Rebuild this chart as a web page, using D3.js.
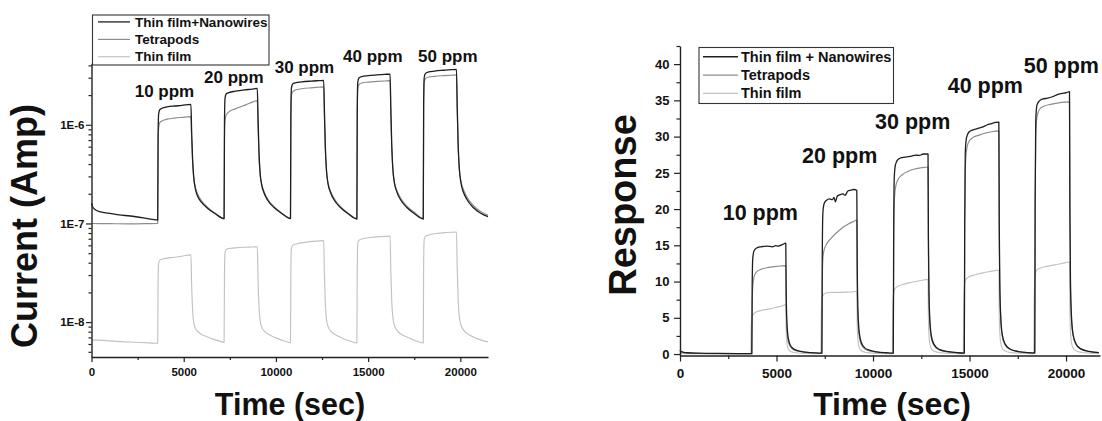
<!DOCTYPE html>
<html>
<head>
<meta charset="utf-8">
<script src="https://cdn.jsdelivr.net/npm/d3@7"></script>
<style>
  body { margin: 0; background: #fff; }
  svg { display: block; font-family: "Liberation Sans", Arial, sans-serif; font-weight: bold; }
</style>
</head>
<body>
<svg id="chart" width="1102" height="421"></svg>
<script>
// ---- Sensor current (A) vs time (s), log scale ----
const currentHybrid = [
  [0,1.60e-7],[60,1.48e-7],[200,1.38e-7],[500,1.31e-7],[900,1.27e-7],[1500,1.22e-7],[2100,1.19e-7],[2800,1.14e-7],[3300,1.10e-7],[3590,1.08e-7],
  [3610,7.5e-7],[3640,1.28e-6],[3700,1.42e-6],[3850,1.48e-6],[4100,1.52e-6],[4500,1.55e-6],[4900,1.57e-6],[5390,1.61e-6],
  [5430,8.5e-7],[5480,4.6e-7],[5540,3.0e-7],[5630,2.25e-7],[5750,1.9e-7],[5950,1.65e-7],[6300,1.42e-7],[6700,1.26e-7],[7190,1.12e-7],
  [7210,1.0e-6],[7240,1.85e-6],[7300,2.05e-6],[7450,2.12e-6],[7800,2.19e-6],[8300,2.26e-6],[8700,2.3e-6],[8990,2.34e-6],
  [9030,1.2e-6],[9080,5.5e-7],[9140,3.3e-7],[9230,2.45e-7],[9350,2.05e-7],[9550,1.72e-7],[9900,1.45e-7],[10300,1.27e-7],[10790,1.12e-7],
  [10810,1.2e-6],[10840,2.35e-6],[10900,2.58e-6],[11050,2.66e-6],[11400,2.72e-6],[11900,2.77e-6],[12300,2.8e-6],[12590,2.82e-6],
  [12630,1.4e-6],[12680,6e-7],[12740,3.5e-7],[12830,2.5e-7],[12950,2.08e-7],[13150,1.74e-7],[13500,1.45e-7],[13900,1.26e-7],[14390,1.11e-7],
  [14410,1.4e-6],[14440,2.7e-6],[14500,2.98e-6],[14650,3.08e-6],[15000,3.15e-6],[15500,3.2e-6],[15900,3.24e-6],[16190,3.27e-6],
  [16230,1.5e-6],[16280,6.3e-7],[16340,3.6e-7],[16430,2.55e-7],[16550,2.1e-7],[16750,1.75e-7],[17100,1.45e-7],[17500,1.26e-7],[17990,1.11e-7],
  [18010,1.6e-6],[18040,3.0e-6],[18100,3.3e-6],[18250,3.42e-6],[18600,3.5e-6],[19100,3.57e-6],[19500,3.62e-6],[19790,3.65e-6],
  [19830,1.6e-6],[19880,6.5e-7],[19940,3.7e-7],[20030,2.6e-7],[20150,2.12e-7],[20350,1.76e-7],[20700,1.45e-7],[21100,1.27e-7],[21500,1.17e-7]
];
const currentTetrapods = [
  [0,1.0e-7],[1000,9.95e-8],[2000,9.9e-8],[3000,9.95e-8],[3590,1.0e-7],
  [3610,5.5e-7],[3640,9.3e-7],[3700,1.05e-6],[3850,1.1e-6],[4100,1.14e-6],[4500,1.17e-6],[4900,1.19e-6],[5390,1.21e-6],
  [5430,7.0e-7],[5480,4.2e-7],[5540,2.95e-7],[5630,2.35e-7],[5750,2.0e-7],[5950,1.72e-7],[6300,1.45e-7],[6700,1.27e-7],[7190,1.12e-7],
  [7210,7e-7],[7240,1.12e-6],[7300,1.25e-6],[7450,1.35e-6],[7800,1.45e-6],[8200,1.55e-6],[8600,1.66e-6],[8990,1.76e-6],
  [9030,9.5e-7],[9080,4.8e-7],[9140,3.2e-7],[9230,2.5e-7],[9350,2.12e-7],[9550,1.78e-7],[9900,1.48e-7],[10300,1.28e-7],[10790,1.13e-7],
  [10810,1.0e-6],[10840,1.95e-6],[10900,2.15e-6],[11050,2.25e-6],[11400,2.32e-6],[11900,2.37e-6],[12300,2.4e-6],[12590,2.42e-6],
  [12630,1.2e-6],[12680,5.5e-7],[12740,3.4e-7],[12830,2.55e-7],[12950,2.15e-7],[13150,1.8e-7],[13500,1.48e-7],[13900,1.28e-7],[14390,1.12e-7],
  [14410,1.2e-6],[14440,2.3e-6],[14500,2.55e-6],[14650,2.65e-6],[15000,2.71e-6],[15500,2.75e-6],[15900,2.78e-6],[16190,2.8e-6],
  [16230,1.3e-6],[16280,5.8e-7],[16340,3.5e-7],[16430,2.6e-7],[16550,2.18e-7],[16750,1.82e-7],[17100,1.5e-7],[17500,1.3e-7],[17990,1.13e-7],
  [18010,1.4e-6],[18040,2.65e-6],[18100,2.92e-6],[18250,3.03e-6],[18600,3.1e-6],[19100,3.15e-6],[19500,3.18e-6],[19790,3.2e-6],
  [19830,1.4e-6],[19880,6e-7],[19940,3.6e-7],[20030,2.7e-7],[20150,2.25e-7],[20350,1.86e-7],[20700,1.52e-7],[21100,1.32e-7],[21500,1.21e-7]
];
const currentThinFilm = [
  [0,6.6e-9],[800,6.5e-9],[1600,6.35e-9],[2400,6.25e-9],[3100,6.15e-9],[3590,6.1e-9],
  [3610,2.4e-8],[3640,3.9e-8],[3700,4.25e-8],[3900,4.38e-8],[4300,4.5e-8],[4800,4.63e-8],[5390,4.8e-8],
  [5430,2.4e-8],[5480,1.35e-8],[5540,1.0e-8],[5630,8.7e-9],[5800,7.9e-9],[6100,7.3e-9],[6500,6.8e-9],[6900,6.45e-9],[7190,6.25e-9],
  [7210,3.0e-8],[7240,5.1e-8],[7300,5.45e-8],[7500,5.58e-8],[7900,5.68e-8],[8500,5.75e-8],[8990,5.8e-8],
  [9030,2.7e-8],[9080,1.45e-8],[9140,1.05e-8],[9230,8.9e-9],[9400,8.0e-9],[9700,7.35e-9],[10100,6.8e-9],[10500,6.4e-9],[10790,6.2e-9],
  [10810,3.2e-8],[10840,5.6e-8],[10900,6.0e-8],[11100,6.2e-8],[11500,6.4e-8],[12000,6.58e-8],[12590,6.7e-8],
  [12630,3.0e-8],[12680,1.55e-8],[12740,1.08e-8],[12830,9.0e-9],[13000,8.0e-9],[13300,7.3e-9],[13700,6.75e-9],[14100,6.35e-9],[14390,6.15e-9],
  [14410,3.5e-8],[14440,6.3e-8],[14500,6.75e-8],[14700,7.0e-8],[15100,7.2e-8],[15600,7.35e-8],[16190,7.45e-8],
  [16230,3.3e-8],[16280,1.65e-8],[16340,1.12e-8],[16430,9.2e-9],[16600,8.1e-9],[16900,7.35e-9],[17300,6.8e-9],[17700,6.35e-9],[17990,6.15e-9],
  [18010,3.8e-8],[18040,6.9e-8],[18100,7.4e-8],[18300,7.65e-8],[18700,7.9e-8],[19200,8.08e-8],[19790,8.2e-8],
  [19830,3.6e-8],[19880,1.75e-8],[19940,1.15e-8],[20030,9.4e-9],[20200,8.2e-9],[20500,7.4e-9],[20900,6.8e-9],[21500,6.3e-9]
];

// ---- Sensor response vs time (s), linear scale ----
const responseHybrid = [
  [0,0.55],[40,0.4],[150,0.28],[400,0.18],[1000,0.12],[2000,0.08],[3000,0.06],[3720,0.05],
  [3740,9.5],[3770,13.2],[3830,14.2],[3950,14.6],[4200,14.8],[4500,14.9],[4800,14.8],[4950,14.95],[5100,14.9],[5300,15.1],[5480,15.3],
  [5500,9.0],[5530,5.0],[5580,2.8],[5660,1.6],[5800,0.9],[6050,0.5],[6500,0.28],[7000,0.16],[7350,0.12],
  [7370,13],[7400,19.3],[7460,20.7],[7580,21.2],[7750,21.4],[7900,21.3],[7980,21.6],[8050,21.0],[8150,21.8],[8300,22.0],[8450,22.1],[8550,21.9],[8700,22.5],[8850,22.6],[9000,22.7],[9160,22.6],
  [9180,13],[9210,7],[9260,3.8],[9340,2.1],[9480,1.15],[9730,0.6],[10200,0.3],[10700,0.18],[11050,0.13],
  [11070,16],[11100,24.3],[11160,26.1],[11280,26.8],[11500,27.1],[11750,27.2],[12000,27.3],[12200,27.45],[12400,27.4],[12600,27.6],[12850,27.6],
  [12870,16],[12900,8.5],[12950,4.5],[13030,2.4],[13170,1.3],[13420,0.65],[13900,0.32],[14400,0.18],[14730,0.14],
  [14750,18],[14780,27.8],[14840,29.8],[14960,30.6],[15150,30.9],[15400,31.1],[15650,31.3],[15900,31.6],[16150,31.8],[16350,31.95],[16520,32.0],
  [16540,18],[16570,9.5],[16620,5],[16700,2.6],[16840,1.4],[17090,0.7],[17550,0.34],[18050,0.19],[18380,0.15],
  [18400,21],[18430,32],[18490,34.3],[18610,34.9],[18800,35.2],[19050,35.3],[19300,35.5],[19550,35.8],[19800,35.95],[20000,36.05],[20180,36.2],
  [20200,20],[20230,10],[20280,5.3],[20360,2.8],[20500,1.5],[20750,0.75],[21200,0.36],[21700,0.2]
];
const responseTetrapods = [
  [0,0.35],[60,0.25],[300,0.14],[1000,0.08],[2200,0.05],[3720,0.04],
  [3740,6.5],[3770,9.3],[3830,10.6],[3950,11.3],[4200,11.7],[4600,11.95],[5000,12.1],[5480,12.2],
  [5500,7],[5530,3.8],[5580,2.2],[5660,1.3],[5800,0.75],[6050,0.42],[6500,0.24],[7000,0.14],[7350,0.1],
  [7370,9],[7400,13],[7460,14.3],[7580,15.1],[7800,15.9],[8100,16.7],[8400,17.4],[8700,17.9],[9000,18.3],[9160,18.5],
  [9180,10],[9210,5.3],[9260,3],[9340,1.7],[9480,0.95],[9730,0.5],[10200,0.26],[10700,0.15],[11050,0.11],
  [11070,14],[11100,20.8],[11160,22.9],[11280,24.0],[11500,24.7],[11800,25.2],[12100,25.5],[12500,25.7],[12850,25.8],
  [12870,14],[12900,7.5],[12950,4],[13030,2.1],[13170,1.15],[13420,0.6],[13900,0.3],[14400,0.16],[14730,0.12],
  [14750,17],[14780,25.5],[14840,28.0],[14960,29.3],[15200,29.9],[15500,30.2],[15850,30.5],[16200,30.7],[16520,30.8],
  [16540,17],[16570,9],[16620,4.7],[16700,2.45],[16840,1.3],[17090,0.65],[17550,0.32],[18050,0.18],[18380,0.13],
  [18400,20],[18430,30],[18490,32.6],[18610,33.7],[18850,34.2],[19200,34.45],[19600,34.65],[20180,34.8],
  [20200,19],[20230,9.5],[20280,5],[20360,2.65],[20500,1.4],[20750,0.7],[21200,0.34],[21700,0.19]
];
const responseThinFilm = [
  [0,0.1],[500,0.05],[3670,0.02],
  [3690,3.8],[3730,5.0],[3800,5.5],[3950,5.8],[4200,6.0],[4600,6.2],[5000,6.45],[5300,6.65],[5480,6.85],
  [5500,3.5],[5530,1.8],[5580,0.95],[5660,0.5],[5800,0.28],[6100,0.14],[6700,0.07],[7300,0.04],
  [7320,5],[7360,7.6],[7430,8.2],[7600,8.45],[7900,8.5],[8300,8.5],[8700,8.55],[9000,8.6],[9160,8.65],
  [9180,4.3],[9210,2.2],[9260,1.15],[9340,0.6],[9480,0.33],[9800,0.16],[10400,0.08],[11000,0.04],
  [11020,5.5],[11060,8.3],[11130,9.0],[11300,9.35],[11600,9.65],[12000,9.9],[12400,10.1],[12850,10.3],
  [12870,5.2],[12900,2.6],[12950,1.35],[13030,0.7],[13170,0.38],[13500,0.18],[14100,0.09],[14680,0.05],
  [14700,6.5],[14740,9.6],[14810,10.3],[14980,10.65],[15300,10.95],[15700,11.2],[16100,11.4],[16520,11.6],
  [16540,5.8],[16570,2.9],[16620,1.5],[16700,0.78],[16840,0.42],[17170,0.2],[17800,0.1],[18330,0.05],
  [18350,7],[18390,10.7],[18460,11.5],[18650,11.85],[19000,12.1],[19400,12.3],[19800,12.5],[20180,12.7],
  [20200,6.3],[20230,3.1],[20280,1.6],[20360,0.85],[20500,0.45],[20830,0.22],[21300,0.12],[21700,0.08]
];

// ---- Labels and ticks ----
const legendLabelsLeft = ["Thin film+Nanowires", "Tetrapods", "Thin film"];
const legendLabelsRight = ["Thin film + Nanowires", "Tetrapods", "Thin film"];
const concentrationLabels = ["10 ppm", "20 ppm", "30 ppm", "40 ppm", "50 ppm"];
const timeTicks = [0, 5000, 10000, 15000, 20000];
const timeMinorTicks = [2500, 7500, 12500, 17500];
const currentTicks = [1e-8, 1e-7, 1e-6];
const currentMinorTicks = [5e-9, 6e-9, 7e-9, 8e-9, 9e-9,
  2e-8, 3e-8, 4e-8, 5e-8, 6e-8, 7e-8, 8e-8, 9e-8,
  2e-7, 3e-7, 4e-7, 5e-7, 6e-7, 7e-7, 8e-7, 9e-7,
  2e-6, 3e-6, 4e-6];
const responseTicks = [0, 5, 10, 15, 20, 25, 30, 35, 40];
const responseMinorTicks = [2.5, 7.5, 12.5, 17.5, 22.5, 27.5, 32.5, 37.5, 42.5];

const seriesColors = ["#1e1e1e", "#8c8c8c", "#c2c2c2"];
const seriesWidths = [1.3, 1.15, 1.15];

const svg = d3.select("#chart");
const ink = "#222";
const plainNumber = d3.format("d");

function styleAxis(g, fontSize) {
  g.select(".domain").attr("stroke", ink).attr("stroke-width", 1.4);
  g.selectAll(".tick line").attr("stroke", ink).attr("stroke-width", 1.2);
  g.selectAll(".tick text").attr("fill", "#111").attr("font-size", fontSize)
    .attr("font-weight", "bold").attr("font-family", '"Liberation Sans", Arial, sans-serif');
}

function drawLines(g, x, y, seriesList) {
  const line = d3.line().x(d => x(d[0])).y(d => y(d[1])).curve(d3.curveMonotoneX);
  // lightest trace first so the darker ones sit on top
  [2, 1, 0].forEach(i => {
    g.append("path").datum(seriesList[i])
      .attr("fill", "none")
      .attr("stroke", seriesColors[i])
      .attr("stroke-width", seriesWidths[i])
      .attr("stroke-linejoin", "round")
      .attr("d", line);
  });
}

function drawLegend(g, box, labels, fontSize, rowBaselines, lineX0, lineX1, textX) {
  g.append("rect").attr("x", box.x).attr("y", box.y).attr("width", box.w).attr("height", box.h)
    .attr("fill", "#fff").attr("stroke", "#333").attr("stroke-width", 1.1);
  labels.forEach((lab, i) => {
    const yb = rowBaselines[i];
    g.append("line").attr("x1", lineX0).attr("x2", lineX1)
      .attr("y1", yb - fontSize * 0.34).attr("y2", yb - fontSize * 0.34)
      .attr("stroke", seriesColors[i]).attr("stroke-width", seriesWidths[i]);
    g.append("text").attr("x", textX).attr("y", yb).attr("font-size", fontSize)
      .attr("fill", "#111").text(lab);
  });
}

// ================= Left panel: current =================
const left = svg.append("g");
const xL = d3.scaleLinear().domain([0, 21500]).range([91.5, 488]);
const yL = d3.scaleLog().domain([4.43e-9, 4.2e-6]).range([357, 63.3]);

drawLines(left, xL, yL, [currentHybrid, currentTetrapods, currentThinFilm]);

const axLX = left.append("g").attr("transform", "translate(0,357)")
  .call(d3.axisBottom(xL).tickValues(timeTicks).tickFormat(plainNumber)
    .tickSize(5).tickPadding(6).tickSizeOuter(0));
styleAxis(axLX, 11.5);
const axLXm = left.append("g").attr("transform", "translate(0,357)")
  .call(d3.axisBottom(xL).tickValues(timeMinorTicks).tickSize(3).tickFormat("").tickSizeOuter(0));
styleAxis(axLXm, 11.5); axLXm.select(".domain").remove();

const axLY = left.append("g").attr("transform", "translate(91.5,0)")
  .call(d3.axisLeft(yL).tickValues(currentTicks).tickSize(5.5).tickPadding(1.5).tickSizeOuter(0)
    .tickFormat(d => "1E" + Math.round(Math.log10(d))));
styleAxis(axLY, 11.5);
const axLYm = left.append("g").attr("transform", "translate(91.5,0)")
  .call(d3.axisLeft(yL).tickValues(currentMinorTicks).tickSize(3).tickFormat("").tickSizeOuter(0));
styleAxis(axLYm, 11.5); axLYm.select(".domain").remove();

drawLegend(left, {x: 92.5, y: 15, w: 176.5, h: 50}, legendLabelsLeft, 13.5, [26.5, 44, 61.3], 98, 130, 135);

const ppmLeftPos = [[134.7, 96.7], [204, 83.3], [274.7, 72.7], [343, 61.7], [418, 61.7]];
concentrationLabels.forEach((t, i) => {
  left.append("text").attr("x", ppmLeftPos[i][0]).attr("y", ppmLeftPos[i][1])
    .attr("font-size", 17).attr("fill", "#111").text(t);
});

left.append("text").attr("transform", "translate(37,226) rotate(-90)")
  .attr("text-anchor", "middle").attr("font-size", 36).attr("fill", "#111").text("Current (Amp)");
left.append("text").attr("x", 290).attr("y", 415)
  .attr("text-anchor", "middle").attr("font-size", 30.5).attr("fill", "#111").text("Time (sec)");

// ================= Right panel: response =================
const right = svg.append("g");
const xR = d3.scaleLinear().domain([0, 21760]).range([680, 1100]);
const yR = d3.scaleLinear().domain([-0.2, 42.5]).range([355.5, 46]);

drawLines(right, xR, yR, [responseHybrid, responseTetrapods, responseThinFilm]);

const axRX = right.append("g").attr("transform", "translate(0,355.5)")
  .call(d3.axisBottom(xR).tickValues(timeTicks).tickFormat(plainNumber)
    .tickSize(6).tickPadding(7).tickSizeOuter(0));
styleAxis(axRX, 13.5);
const axRXm = right.append("g").attr("transform", "translate(0,355.5)")
  .call(d3.axisBottom(xR).tickValues(timeMinorTicks).tickSize(3.5).tickFormat("").tickSizeOuter(0));
styleAxis(axRXm, 13.5); axRXm.select(".domain").remove();

const axRY = right.append("g").attr("transform", "translate(680,0)")
  .call(d3.axisLeft(yR).tickValues(responseTicks).tickFormat(plainNumber)
    .tickSize(6).tickPadding(4.5).tickSizeOuter(0));
styleAxis(axRY, 13);
const axRYm = right.append("g").attr("transform", "translate(680,0)")
  .call(d3.axisLeft(yR).tickValues(responseMinorTicks).tickSize(3.5).tickFormat("").tickSizeOuter(0));
styleAxis(axRYm, 13); axRYm.select(".domain").remove();

drawLegend(right, {x: 699, y: 47.5, w: 194.5, h: 56}, legendLabelsRight, 14.5, [61.7, 80, 98.3], 703, 738, 741);

const ppmRightPos = [[722.7, 220], [802, 162.7], [875, 129.3], [947.7, 93.3], [1023.7, 73.3]];
concentrationLabels.forEach((t, i) => {
  right.append("text").attr("x", ppmRightPos[i][0]).attr("y", ppmRightPos[i][1])
    .attr("font-size", 21.5).attr("fill", "#111").text(t);
});

right.append("text").attr("transform", "translate(636,205) rotate(-90)")
  .attr("text-anchor", "middle").attr("font-size", 38).attr("fill", "#111").text("Response");
right.append("text").attr("x", 892).attr("y", 415)
  .attr("text-anchor", "middle").attr("font-size", 32).attr("fill", "#111").text("Time (sec)");
</script>
</body>
</html>
